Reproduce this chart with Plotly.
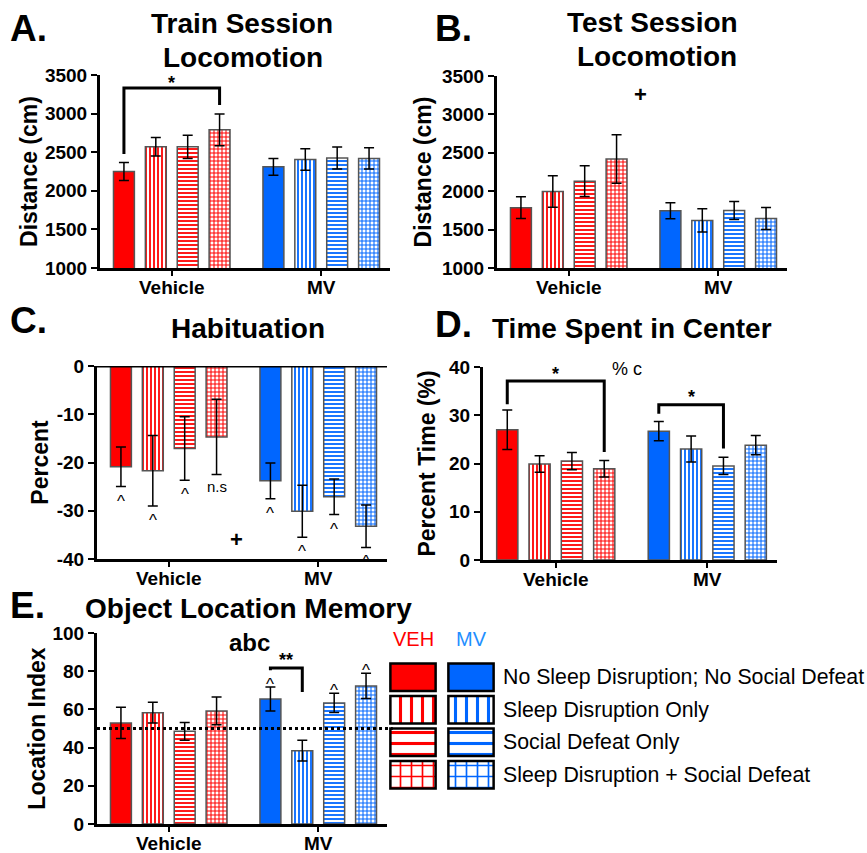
import plotly.graph_objects as go

# ---------------- data ----------------
groups = ["Vehicle", "MV"]
conditions = ["No Sleep Disruption; No Social Defeat", "Sleep Disruption Only",
              "Social Defeat Only", "Sleep Disruption + Social Defeat"]
legend_cols = ["VEH", "MV"]

# A. Train session locomotion (cm)
train_veh = [2250, 2570, 2570, 2790]
train_veh_err = [115, 120, 150, 205]
train_mv = [2310, 2405, 2425, 2420]
train_mv_err = [110, 140, 143, 138]

# B. Test session locomotion (cm)
test_veh = [1785, 1995, 2130, 2420]
test_veh_err = [142, 205, 200, 315]
test_mv = [1745, 1620, 1750, 1645]
test_mv_err = [105, 150, 117, 144]

# C. Habituation (percent)
hab_veh = [-20.9, -21.7, -17.1, -14.7]
hab_veh_err = [4.1, 7.3, 6.6, 7.8]
hab_mv = [-23.8, -30.1, -27.1, -33.2]
hab_mv_err = [3.7, 5.4, 3.7, 4.4]
hab_veh_marks = ["^", "^", "^", "n.s"]
hab_mv_marks = ["^", "^", "^", "^"]

# D. Time spent in center (%)
center_veh = [27.0, 19.9, 20.5, 18.9]
center_veh_err = [4.1, 1.7, 1.8, 1.7]
center_mv = [26.7, 23.0, 19.5, 23.8]
center_mv_err = [2.0, 2.7, 1.8, 2.0]

# E. Object location memory (location index)
olm_veh = [52.9, 58.3, 48.5, 59.2]
olm_veh_err = [8.2, 5.4, 4.7, 7.3]
olm_mv = [65.4, 38.4, 63.4, 72.3]
olm_mv_err = [6.3, 5.4, 5.0, 6.6]
olm_mv_marks = ["^", "", "^", "^"]
chance_level = 50

ticks_loco = [1000, 1500, 2000, 2500, 3000, 3500]
ticks_hab = [0, -10, -20, -30, -40]
ticks_center = [0, 10, 20, 30, 40]
ticks_olm = [0, 20, 40, 60, 80, 100]

# ---------------- style ----------------
F = "Liberation Sans, Arial, sans-serif"
RED = "#ff0000"
BLUE = "#0066ff"
PAT = ["", "|", "-", "+"]
W, H = 867, 853
SLOT = 0.2133   # category units per bar slot
XR = [-0.48, 1.46]


def X(px):
    return px / W


def Y(py):
    return 1 - py / H


def off(k):
    return (k - 1.5) * SLOT


fig = go.Figure()


def add_bars(xa, ya, veh, veh_err, mv, mv_err):
    for k in range(4):
        marker = dict(color=[RED, BLUE], line=dict(color="#555555", width=1.5))
        if PAT[k]:
            marker["pattern"] = dict(shape=PAT[k], fillmode="replace", bgcolor="white",
                                     fgcolor=[RED, BLUE], size=4, solidity=0.45)
        fig.add_trace(go.Bar(
            x=groups, y=[veh[k], mv[k]], name=conditions[k],
            error_y=dict(type="data", array=[veh_err[k], mv_err[k]], color="black",
                         thickness=1.5, width=5),
            marker=marker, xaxis=xa, yaxis=ya, showlegend=False, hoverinfo="skip"))


add_bars("x", "y", train_veh, train_veh_err, train_mv, train_mv_err)
add_bars("x2", "y2", test_veh, test_veh_err, test_mv, test_mv_err)
add_bars("x3", "y3", hab_veh, hab_veh_err, hab_mv, hab_mv_err)
add_bars("x4", "y4", center_veh, center_veh_err, center_mv, center_mv_err)
add_bars("x5", "y5", olm_veh, olm_veh_err, olm_mv, olm_mv_err)

# legend panel built from bars
for k in range(4):
    marker = dict(color=[RED, BLUE], line=dict(color="black", width=2.5))
    if PAT[k]:
        marker["pattern"] = dict(shape=PAT[k], fillmode="replace", bgcolor="white",
                                 fgcolor=[RED, BLUE], size=11, solidity=0.28)
    fig.add_trace(go.Bar(x=[0, 1], y=[0.84, 0.84], base=[k - 0.42, k - 0.42],
                         width=0.78, offset=-0.39, marker=marker, xaxis="x6", yaxis="y6",
                         showlegend=False, hoverinfo="skip"))

tickfont = dict(family=F, size=19, color="black", weight="bold")
titlefont = dict(family=F, size=23, color="black", weight="bold")


def xcfg(domain, anchor):
    return dict(domain=domain, anchor=anchor, type="category", range=XR,
                showline=True, linewidth=3, linecolor="black", ticks="outside",
                ticklen=5, tickwidth=2, tickcolor="black", tickfont=tickfont,
                ticklabelstandoff=-5,
                showgrid=False, zeroline=False, fixedrange=True, automargin=False)


def ycfg(domain, anchor, rng, tv, title, standoff):
    return dict(domain=domain, anchor=anchor, range=rng, tickvals=tv,
                ticktext=[str(v) for v in tv], showline=True, linewidth=3,
                linecolor="black", ticks="outside", ticklen=6, tickwidth=2,
                tickcolor="black", tickfont=tickfont, showgrid=False, zeroline=False,
                automargin=False, title=dict(text=title, font=titlefont, standoff=standoff))


fig.update_layout(
    template="none",
    width=W, height=H, margin=dict(l=0, r=0, t=0, b=0, autoexpand=False),
    paper_bgcolor="white", plot_bgcolor="white",
    barmode="group", bargap=0.147, bargroupgap=0.344,
    font=dict(family=F, color="black"),
    xaxis=xcfg([X(100), X(390)], "y"),
    yaxis=ycfg([Y(268), Y(75)], "x", [1000, 3500], ticks_loco, "Distance (cm)", 1),
    xaxis2=xcfg([X(497), X(787)], "y2"),
    yaxis2=ycfg([Y(268), Y(76)], "x2", [1000, 3500], ticks_loco, "Distance (cm)", 4),
    xaxis3=xcfg([X(97), X(387)], "y3"),
    yaxis3=ycfg([Y(559), Y(366)], "x3", [-40, 0], ticks_hab, "Percent", 2),
    xaxis4=xcfg([X(483), X(777)], "y4"),
    yaxis4=ycfg([Y(560), Y(367)], "x4", [0, 40], ticks_center, "Percent Time (%)", 8),
    xaxis5=xcfg([X(97), X(387)], "y5"),
    yaxis5=ycfg([Y(824), Y(633)], "x5", [0, 100], ticks_olm, "Location Index", 1),
    xaxis6=dict(domain=[X(384), X(500)], anchor="y6", range=[-0.5, 1.5], visible=False,
                automargin=False),
    yaxis6=dict(domain=[Y(791), Y(661)], anchor="x6", range=[3.5, -0.5], visible=False,
                automargin=False),
)

shapes = []
ann = []


def bracket(xa, ya, x0, x1, y0, ytop, y1):
    shapes.append(dict(type="path", xref=xa, yref=ya,
                       path=f"M {x0},{y0} L {x0},{ytop} L {x1},{ytop} L {x1},{y1}",
                       line=dict(color="black", width=3)))


def text(xa, ya, x, y, s, size=18, bold=True, **kw):
    d = dict(xref=xa, yref=ya, x=x, y=y, text=s, showarrow=False,
             font=dict(family=F, size=size, color="black", weight="bold" if bold else "normal"))
    d.update(kw)
    ann.append(d)


# Panel letters & titles
for lab, px, py in [("A.", 8, 28), ("B.", 433, 28), ("C.", 8, 320), ("D.", 433, 324), ("E.", 8, 605)]:
    text("paper", "paper", X(px), Y(py), lab, size=37, xanchor="left", yanchor="middle")
for s, px, py in [("Train Session", 242, 24), ("Locomotion", 243, 57),
                  ("Test Session", 652, 23), ("Locomotion", 657, 56),
                  ("Habituation", 248, 328), ("Time Spent in Center", 632, 328),
                  ("Object Location Memory", 248, 608)]:
    text("paper", "paper", X(px), Y(py), s, size=28, xanchor="center", yanchor="middle")

# A: significance
bracket("x", "y", 0 + off(0), 0 + off(3), 2477, 3332, 3111)
text("x", "y", 0, 3400, "*", size=18)
# B: plus sign
text("x2", "y2", 0.48, 3253, "+", size=22, yanchor="middle")
# C: zero line, marks
shapes.append(dict(type="line", xref="x3 domain", x0=0, x1=1, yref="y3", y0=0, y1=0,
                   line=dict(color="black", width=3)))
for gi, (m, e, marks) in enumerate([(hab_veh, hab_veh_err, hab_veh_marks),
                                    (hab_mv, hab_mv_err, hab_mv_marks)]):
    for k in range(4):
        s = marks[k]
        if s == "n.s":
            text("x3", "y3", gi + off(k), m[k] - e[k], s, size=15, bold=False,
                 yanchor="top", yshift=-1)
        else:
            text("x3", "y3", gi + off(k), m[k] - e[k], s, size=17, bold=False,
                 yanchor="top", yshift=-3)
text("x3", "y3", 0.45, -36, "+", size=22, yanchor="middle")
# D: brackets
bracket("x4", "y4", 0 + off(0), 0 + off(3), 32.3, 37.1, 22.4)
text("x4", "y4", 0, 38.6, "*", size=18, yanchor="middle")
text("x4", "y4", 0.47, 39.6, "% c", size=18, bold=False, yanchor="middle")
bracket("x4", "y4", 1 + off(0), 1 + off(2), 30.3, 32.2, 23.1)
text("x4", "y4", 1 + (off(0) + off(2)) / 2, 33.8, "*", size=18, yanchor="middle")
# E: chance line, marks, bracket
shapes.append(dict(type="line", xref="x5 domain", x0=0, x1=1.02, yref="y5",
                   y0=chance_level, y1=chance_level,
                   line=dict(color="black", width=3, dash="dot")))
for k in range(4):
    if olm_mv_marks[k]:
        text("x5", "y5", 1 + off(k), olm_mv[k] + olm_mv_err[k], olm_mv_marks[k], size=17,
             bold=False, yanchor="bottom", yshift=-9)
bracket("x5", "y5", 1 + off(0), 1 + off(1), 80.5, 81.7, 69.1)
text("x5", "y5", 1 + (off(0) + off(1)) / 2, 86, "**", size=18, yanchor="middle")
text("x5", "y5", 0.54, 94.8, "abc", size=24, yanchor="middle")

# Legend texts
ann.append(dict(xref="x6", yref="paper", x=0, y=Y(652), text=legend_cols[0], showarrow=False,
                font=dict(family=F, size=20, color=RED)))
ann.append(dict(xref="x6", yref="paper", x=1, y=Y(652), text=legend_cols[1], showarrow=False,
                font=dict(family=F, size=20, color="#1f8fff")))
for k, c in enumerate(conditions):
    ann.append(dict(xref="paper", yref="y6", x=X(501), y=k, text=c, showarrow=False,
                    xanchor="left", yanchor="middle",
                    font=dict(family=F, size=21.3, color="black")))

fig.update_layout(shapes=shapes, annotations=ann)
fig.write_html("out.html")
